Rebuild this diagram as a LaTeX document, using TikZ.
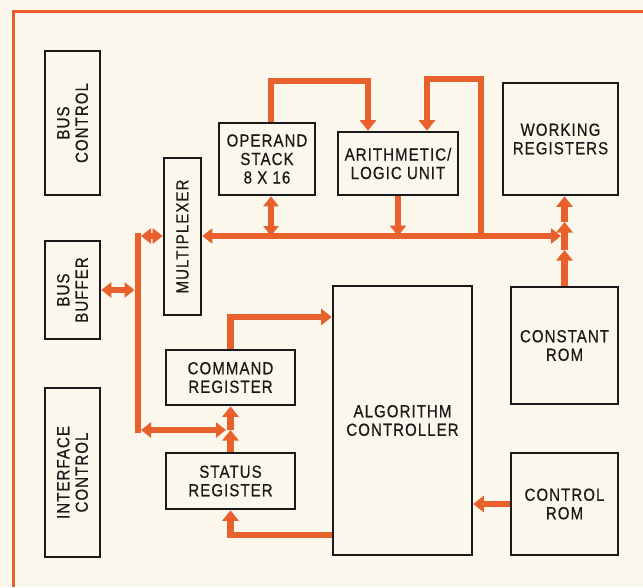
\documentclass[tikz,border=0pt]{standalone}
\usepackage{fontspec}
\setmainfont{Liberation Sans}[FakeStretch=0.86,LetterSpace=6,FakeBold=0.5]
\usetikzlibrary{arrows.meta}
\definecolor{bgc}{HTML}{FBF7EC}
\definecolor{org}{HTML}{E8612C}
\definecolor{ink}{HTML}{1A1A1A}
\newcommand\labfont{\fontsize{17.5}{18.5}\selectfont}
\pgfdeclarelayer{bglayer}
\pgfdeclarelayer{connlayer}
\pgfsetlayers{bglayer,connlayer,main}
\begin{document}
\begin{tikzpicture}[x=1pt,y=-1pt,
  box/.style={draw=ink, line width=2.6pt, align=center, inner sep=0pt, text=ink, font=\labfont},
  lab/.style={align=center, inner sep=0pt, text=ink, font=\labfont},
  bus/.style={draw=org, line width=6.5pt},
  onehead/.style={-{Triangle[length=10.5pt,width=16pt]}},
  dbl/.style={{Triangle[length=10pt,width=15pt]}-{Triangle[length=10pt,width=15pt]}}]
\begin{pgfonlayer}{bglayer}
\fill[bgc] (0,0) rectangle (643,587);
\end{pgfonlayer}
\useasboundingbox (0,0) rectangle (643,587);
\draw[org, line width=3pt] (13.5,587) -- (13.5,11) -- (643,11);

% boxes
\node[box, minimum width=55pt, minimum height=144pt] (bc) at (72.5,123) {};
\node[lab, rotate=90] at (bc) {BUS\\CONTROL};
\node[box, minimum width=55pt, minimum height=98pt] (bb) at (72.5,290) {};
\node[lab, rotate=90] at (bb) {BUS\\BUFFER};
\node[box, minimum width=55pt, minimum height=169pt] (ic) at (72.5,472.5) {};
\node[lab, rotate=90] at (ic) {INTERFACE\\CONTROL};
\node[box, minimum width=37pt, minimum height=157pt] (mux) at (182.5,236.5) {};
\node[lab, rotate=90] at (mux) {MULTIPLEXER};
\node[box, minimum width=96pt, minimum height=72pt] (ops) at (267,159) {OPERAND\\STACK\\8 X 16};
\node[box, minimum width=120pt, minimum height=63pt] (alu) at (398,163.5) {ARITHMETIC/\\LOGIC UNIT};
\node[box, minimum width=115pt, minimum height=112pt] (wreg) at (560.5,139) {WORKING\\REGISTERS};
\node[box, minimum width=129pt, minimum height=55pt] (cmd) at (230.5,377.5) {COMMAND\\REGISTER};
\node[box, minimum width=129pt, minimum height=56pt] (sts) at (230.5,481) {STATUS\\REGISTER};
\node[box, minimum width=139pt, minimum height=269pt] (alg) at (402.5,420.5) {ALGORITHM\\CONTROLLER};
\node[box, minimum width=107pt, minimum height=117pt] (crom) at (564.5,345.5) {CONSTANT\\ROM};
\node[box, minimum width=107pt, minimum height=102pt] (ctrl) at (564.5,504) {CONTROL\\ROM};

% coordinates
\coordinate (ka) at (271,81);
\coordinate (kb) at (368,81);
\coordinate (kc) at (427,79);
\coordinate (kd) at (481,79);
\coordinate (ke) at (481,236);
\coordinate (bre) at (561,236);
\coordinate (v1) at (564.5,250);
\coordinate (v2) at (564.5,222);
\coordinate (la) at (138,236);
\coordinate (lb) at (138,430);
\coordinate (la2) at (141,236);
\coordinate (lb2) at (141,430);
\coordinate (lbr) at (226,430);
\coordinate (bbr) at (134.5,290);
\coordinate (ca) at (230.5,317);
\coordinate (cb) at (230.5,535);

\begin{pgfonlayer}{connlayer}
\draw[bus,onehead] (ka |- ops.north) -- (ka) -- (kb) -- (kb |- alu.north);
\draw[bus,onehead] (ke) -- (kd) -- (kc) -- (kc |- alu.north);
\draw[bus,dbl] (mux.east |- ke) -- (bre);
\draw[bus,dbl] (ka |- ops.south) -- (ka |- ke);
\draw[bus,onehead] (alu.south) -- (alu.south |- ke);
\draw[bus,onehead] (crom.north) -- (v1);
\draw[bus,onehead] (v1) -- (v2);
\draw[bus,onehead] (v2) -- (v2 |- wreg.south);
\draw[bus,line cap=rect] (la) -- (lb);
\draw[bus,dbl] (la2) -- (la -| mux.west);
\draw[bus,dbl] (lb2) -- (lbr);
\draw[bus,dbl] (bb.east) -- (bbr);
\draw[bus,onehead] (sts.north) -- (sts.north |- lb);
\draw[bus,onehead] (sts.north |- lb) -- (cmd.south);
\draw[bus,onehead] (cmd.north) -- (ca) -- (ca -| alg.west);
\draw[bus,onehead] (cb -| alg.west) -- (cb) -- (sts.south);
\draw[bus,onehead] (ctrl.west) -- (ctrl.west -| alg.east);
\end{pgfonlayer}
\end{tikzpicture}
\end{document}
